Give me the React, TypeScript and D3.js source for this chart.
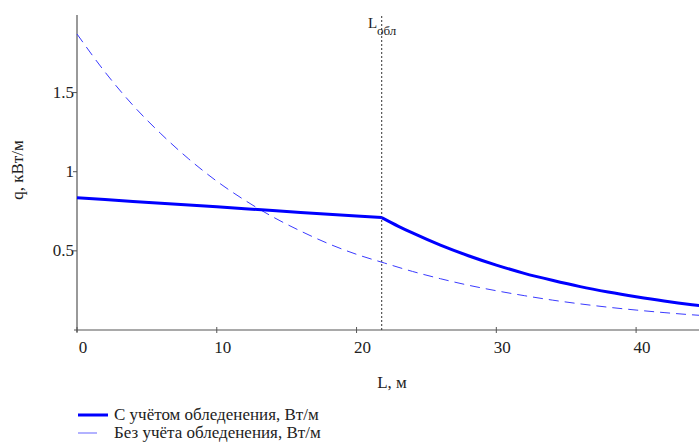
import React from 'react';
import * as d3 from 'd3';

const W = 699;
const H = 444;

// with icing (solid), kW/m
const withIceL = [0, 2, 4, 6, 8, 10, 12, 14, 16, 18, 20, 21.8, 23, 24, 26, 28, 30, 32, 34, 36, 38, 40, 42, 44, 45];
const withIceQ = [0.835, 0.824, 0.812, 0.801, 0.789, 0.778, 0.766, 0.755, 0.743, 0.732, 0.72, 0.71, 0.655, 0.613, 0.536, 0.469, 0.41, 0.358, 0.314, 0.274, 0.24, 0.21, 0.183, 0.16, 0.15];

// without icing (dashed)
const noIceL = [0, 2, 4, 6, 8, 10, 12, 14, 16, 18, 20, 22, 24, 26, 28, 30, 32, 34, 36, 38, 40, 42, 44, 45];
const noIceQ = [1.87, 1.63, 1.42, 1.24, 1.08, 0.94, 0.82, 0.715, 0.625, 0.545, 0.478, 0.423, 0.37, 0.324, 0.283, 0.248, 0.217, 0.189, 0.165, 0.144, 0.126, 0.11, 0.096, 0.09];

const xTicks = [0, 10, 20, 30, 40];
const yTicks = [0.5, 1, 1.5];
const yTickLabels = ['0.5', '1', '1.5'];
const Lobl = 21.8;

const legendLabels = ['С учётом обледенения, Вт/м', 'Без учёта обледенения, Вт/м'];

const tx = { fontFamily: 'Liberation Serif' };

export default function App() {
  const x = d3.scaleLinear().domain([0, 44.5]).range([77, 699]);
  const y = d3.scaleLinear().domain([0, 1.99]).range([330, 15]);

  const pts = (ls: number[], qs: number[]) => ls.map((l, i) => [l, qs[i]] as [number, number]);
  const lin = d3.line<[number, number]>().x(d => x(d[0])).y(d => y(d[1]));
  const smooth = d3.line<[number, number]>().x(d => x(d[0])).y(d => y(d[1])).curve(d3.curveMonotoneX);

  // solid: straight part up to L_обл, then decaying part; kept separate so the break stays sharp
  const solidLeft = lin(pts(withIceL, withIceQ).filter(d => d[0] <= Lobl))!;
  const solidRight = smooth(pts(withIceL, withIceQ).filter(d => d[0] >= Lobl))!;
  const dashed = smooth(pts(noIceL, noIceQ))!;

  const axisColor = '#555';

  return (
    <svg width={W} height={H} style={{ position: 'absolute', left: 0, top: 0, background: '#fff' }}>
      {/* axes */}
      <line x1={x(0)} x2={x(0)} y1={y(1.99)} y2={y(0) + 2} stroke={axisColor} strokeWidth={1.2} />
      <line x1={x(0) - 3} x2={W} y1={y(0)} y2={y(0)} stroke={axisColor} strokeWidth={1.2} />
      {xTicks.map(t => (
        <g key={'x' + t}>
          <line x1={x(t)} x2={x(t)} y1={y(0) - 3} y2={y(0) + 3} stroke={axisColor} />
          <text x={x(t) + 6} y={353} fontSize={17} textAnchor="middle" fill="#222" style={tx}>{t}</text>
        </g>
      ))}
      {yTicks.map((t, i) => (
        <g key={'y' + t}>
          <line x1={x(0) - 4} x2={x(0)} y1={y(t)} y2={y(t)} stroke={axisColor} />
          <text x={x(0) - 3} y={y(t) + 5} fontSize={17} textAnchor="end" fill="#222" style={tx}>{yTickLabels[i]}</text>
        </g>
      ))}

      {/* L_обл marker */}
      <line x1={x(Lobl)} x2={x(Lobl)} y1={16} y2={y(0)} stroke="#333" strokeWidth={1} strokeDasharray="2,2" />
      <text x={368} y={28} fontSize={15} fill="#222" style={tx}>L</text>
      <text x={377} y={35} fontSize={13} fill="#222" style={tx}>обл</text>

      {/* curves */}
      <path d={dashed} fill="none" stroke="#3a3aff" strokeWidth={1} strokeDasharray="10,6" />
      <path d={solidLeft} fill="none" stroke="#0000ff" strokeWidth={3} />
      <path d={solidRight} fill="none" stroke="#0000ff" strokeWidth={3} />

      {/* axis titles */}
      <text transform="translate(23,170) rotate(-90)" fontSize={17} textAnchor="middle" fill="#222" style={tx}>q, кВт/м</text>
      <text x={392} y={388} fontSize={17} textAnchor="middle" fill="#222" style={tx}>L, м</text>

      {/* legend */}
      <line x1={78} x2={108} y1={415} y2={415} stroke="#0000ff" strokeWidth={3} />
      <text x={114} y={420} fontSize={17} fill="#222" style={tx}>{legendLabels[0]}</text>
      <line x1={78} x2={97} y1={433} y2={433} stroke="#7f7fff" strokeWidth={1.2} />
      <text x={114} y={438} fontSize={17} fill="#222" style={tx}>{legendLabels[1]}</text>
    </svg>
  );
}
